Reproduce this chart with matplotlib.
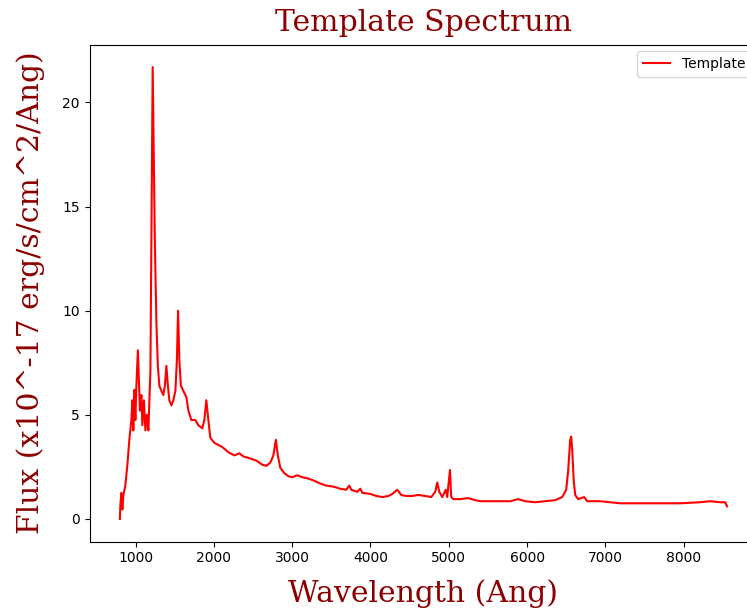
import numpy as np
import matplotlib
matplotlib.use('Agg')
import matplotlib.pyplot as plt

# Template spectrum
wavelength = [800, 807, 819, 832, 845, 870, 896, 921, 947, 960, 972, 985, 998, 1011,
              1030, 1043, 1056, 1075, 1087, 1107, 1126, 1145, 1164, 1177, 1190, 1202,
              1219, 1232, 1247, 1266, 1285, 1304, 1330, 1355, 1375, 1394, 1413, 1432,
              1458, 1483, 1509, 1528, 1543, 1560, 1579, 1611, 1649, 1675, 1713, 1764,
              1802, 1853, 1879, 1904, 1930, 1955, 2007, 2058, 2109, 2185, 2262, 2326,
              2377, 2466, 2543, 2620, 2670, 2721, 2760, 2792, 2817, 2849, 2900, 2951,
              3002, 3066, 3130, 3194, 3270, 3360, 3436, 3525, 3615, 3691, 3729, 3755,
              3832, 3870, 3896, 3998, 4075, 4151, 4228, 4279, 4342, 4393, 4457, 4534,
              4610, 4700, 4776, 4827, 4853, 4878, 4916, 4942, 4961, 4980, 5015, 5031,
              5057, 5146, 5248, 5338, 5402, 5530, 5658, 5785, 5887, 5977, 6104, 6232,
              6359, 6448, 6499, 6525, 6550, 6563, 6576, 6595, 6614, 6652, 6729, 6767,
              6933, 7061, 7188, 7443, 7698, 7954, 8209, 8337, 8464, 8528, 8554]
flux = [0.0, 0.7, 1.25, 0.45, 1.15, 1.6, 2.6, 3.8, 4.75, 5.7, 4.25, 6.2, 4.75, 6.4,
        8.1, 6.65, 5.2, 5.95, 4.5, 5.7, 4.25, 5.0, 4.25, 5.7, 7.1, 12.9,
        21.7, 17.7, 13.25, 9.5, 7.35, 6.4, 6.15, 5.95, 6.4, 7.35, 6.4, 5.7,
        5.45, 5.7, 6.15, 7.6, 10.0, 7.6, 6.4, 6.15, 5.85, 5.2, 4.75, 4.75,
        4.5, 4.35, 4.75, 5.7, 4.75, 3.9, 3.65, 3.55, 3.45, 3.2, 3.05, 3.15,
        3.0, 2.9, 2.8, 2.6, 2.55, 2.7, 3.05, 3.8, 3.05, 2.45, 2.2, 2.05,
        2.0, 2.1, 2.0, 1.95, 1.85, 1.7, 1.6, 1.55, 1.45, 1.4, 1.6, 1.4,
        1.3, 1.45, 1.25, 1.2, 1.1, 1.05, 1.1, 1.2, 1.4, 1.15, 1.1, 1.1,
        1.15, 1.1, 1.05, 1.3, 1.75, 1.3, 1.05, 1.25, 1.4, 1.05, 2.35, 1.05,
        0.95, 0.95, 1.0, 0.9, 0.85, 0.85, 0.85, 0.85, 0.95, 0.85, 0.8, 0.85,
        0.9, 1.05, 1.4, 2.35, 3.8, 3.95, 3.3, 1.85, 1.15, 0.95, 1.05, 0.85,
        0.85, 0.8, 0.75, 0.75, 0.75, 0.75, 0.8, 0.85, 0.8, 0.8, 0.6]

fig = plt.figure(figsize=(7.47, 6.13), dpi=100)
ax = fig.add_axes([89.5 / 747, 1 - 541.5 / 613, 668 / 747, 497 / 613])

ax.plot(wavelength, flux, color='red', label='Template')
ax.set_xlabel('Wavelength (Ang)', family='serif', color='darkred', fontsize=21.5, labelpad=10)
ax.set_ylabel('Flux (x10^-17 erg/s/cm^2/Ang)', family='serif', color='darkred',
              fontsize=21.5, labelpad=12)
ax.set_title('Template Spectrum', family='serif', color='darkred', fontsize=21.5, pad=10)
ax.legend(loc='upper right')

fig.savefig('out.png', dpi=100)
